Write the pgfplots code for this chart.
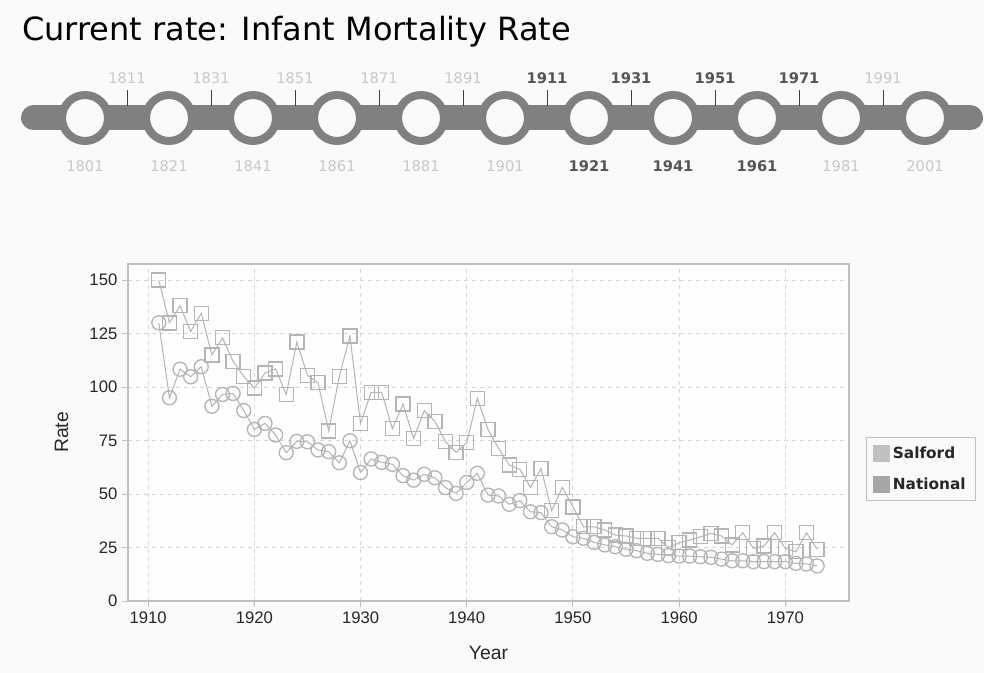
\documentclass[border=0pt]{standalone}
\usepackage{pgfplots}
\usepackage{pgfplotstable}
\pgfplotsset{compat=1.18}
\usepackage{fontspec}
\setmainfont{DejaVu Sans}
\newfontfamily\arial{Liberation Sans}
\definecolor{bg}{HTML}{FAFAFA}
\definecolor{tl}{HTML}{808080}
\definecolor{lightlab}{HTML}{C8C8C8}
\definecolor{darklab}{HTML}{555555}
\definecolor{ser}{HTML}{B4B4B4}
\definecolor{gridc}{HTML}{D6D6D6}
\definecolor{axc}{HTML}{C0C0C0}
\definecolor{salf}{HTML}{C0C0C0}
\definecolor{nat}{HTML}{A6A6A6}

\pgfplotstableread{
year rate
1911 150
1912 130
1913 138
1914 126
1915 134.5
1916 115
1917 123
1918 112
1919 105
1920 99.5
1921 106.5
1922 108.5
1923 96.5
1924 121
1925 105.5
1926 102
1927 79.5
1928 105
1929 123.8
1930 83
1931 97.5
1932 97.5
1933 80.5
1934 92
1935 76
1936 89
1937 84
1938 74.5
1939 69.5
1940 74
1941 94.7
1942 80.2
1943 71.3
1944 63.6
1945 61.5
1946 53.1
1947 62
1948 42.2
1949 53.1
1950 44
1951 34.7
1952 34.7
1953 33.2
1954 30.8
1955 30.4
1956 29.3
1957 29.3
1958 29.3
1959 25
1960 27.2
1961 28.5
1962 30
1963 31.6
1964 30.4
1965 26.2
1966 31.9
1967 24.6
1968 25.7
1969 31.9
1970 24.6
1971 23
1972 31.9
1973 24.1
}\salford

\pgfplotstableread{
year rate
1911 130
1912 95
1913 108.3
1914 104.8
1915 109.5
1916 91
1917 96.5
1918 97
1919 89
1920 80.2
1921 83
1922 77.6
1923 69.3
1924 74.6
1925 74.4
1926 70.6
1927 69.8
1928 64.6
1929 74.9
1930 60
1931 66.4
1932 64.8
1933 63.9
1934 58.6
1935 56.5
1936 59.2
1937 57.6
1938 53
1939 50.3
1940 55.4
1941 59.7
1942 49.5
1943 49.1
1944 45.2
1945 46.9
1946 41.7
1947 41.3
1948 34.7
1949 33.2
1950 30
1951 29.3
1952 27.4
1953 26.2
1954 25.4
1955 24.2
1956 23.5
1957 22.3
1958 21.8
1959 21.2
1960 21
1961 21
1962 20.7
1963 20.4
1964 19.6
1965 18.8
1966 18.8
1967 18.4
1968 18.4
1969 18.4
1970 18.4
1971 17.6
1972 17.3
1973 16.4
}\national

% timeline (pixel coordinates)
\pgfplotstableread{
x y
85 118
169 118
253 118
337 118
421 118
505 118
589 118
673 118
757 118
841 118
925 118
}\tlcircles

\pgfplotstableread{
x y
127 98
211 98
295 98
379 98
463 98
547 98
631 98
715 98
799 98
883 98
}\tlticks

\pgfplotstableread{
x y lab
127 78 1811
211 78 1831
295 78 1851
379 78 1871
463 78 1891
883 78 1991
85 166 1801
169 166 1821
253 166 1841
337 166 1861
421 166 1881
505 166 1901
841 166 1981
925 166 2001
}\tllight

\pgfplotstableread{
x y lab
547 78 1911
631 78 1931
715 78 1951
799 78 1971
589 166 1921
673 166 1941
757 166 1961
}\tldark

\begin{document}
\begin{tikzpicture}
\path[use as bounding box] (0pt,0pt) rectangle (738pt,-504.75pt);
\fill[bg] (0pt,0pt) rectangle (738pt,-504.75pt);

% ---------- timeline ----------
\begin{axis}[
  at={(0pt,0pt)}, anchor=north west,
  width=738pt, height=504.75pt, scale only axis,
  xmin=0, xmax=984, ymin=0, ymax=673, y dir=reverse,
  hide axis, clip=false]
\addplot[tl, line width=18.75pt, line cap=round, mark=none] coordinates {(33.5,118) (970.5,118)};
\addplot[only marks, mark=*, mark size=17.25pt,
  mark options={draw=tl, fill=bg, line width=6pt}] table {\tlcircles};
\addplot[only marks, mark=|, mark size=6pt,
  mark options={draw=black!75, line width=0.75pt}] table {\tlticks};
\addplot[draw=none, mark=none, nodes near coords, point meta=explicit symbolic,
  every node near coord/.style={anchor=center, inner sep=0pt,
    font=\fontsize{11}{13}\selectfont, text=lightlab}]
  table[meta=lab] {\tllight};
\addplot[draw=none, mark=none, nodes near coords, point meta=explicit symbolic,
  every node near coord/.style={anchor=center, inner sep=0pt,
    font=\fontsize{11}{13}\selectfont\bfseries, text=darklab}]
  table[meta=lab] {\tldark};
\node[anchor=base west, inner sep=0pt, font=\fontsize{24}{27}\selectfont]
  at (axis cs:22,41) {Current rate: Infant Mortality Rate};
\end{axis}

% ---------- main chart ----------
\begin{axis}[
  at={(96pt,-450.75pt)}, anchor=south west,
  width=540.75pt, height=252.75pt, scale only axis,
  xmin=1908.1, xmax=1976, ymin=0, ymax=157.5,
  xtick={1910,1920,...,1970}, ytick={0,25,...,150},
  xtick pos=left, ytick pos=left,
  tick align=outside, major tick length=4.5pt,
  tick style={axc, line width=0.75pt},
  grid=major,
  major grid style={gridc, line width=0.75pt, dash pattern=on 3pt off 3pt},
  axis line style={axc, line width=1pt},
  axis background/.style={fill=white!70!bg},
  tick label style={font=\arial\fontsize{12.5}{14}\selectfont, text=black!85},
  xlabel={Year}, ylabel={Rate},
  label style={font=\arial\fontsize{14.5}{16}\selectfont, text=black!85},
  xlabel style={at={(axis description cs:0.5,-0.154)}, anchor=center},
  ylabel style={at={(axis description cs:-0.092,0.5)}, anchor=center},
  legend style={at={(axis description cs:1.0236,0.4866)}, anchor=north west,
    draw=axc, line width=0.75pt, fill=bg,
    font=\fontsize{11.5}{13}\selectfont\bfseries, text=black!85,
    row sep=9pt, inner xsep=5pt, inner ysep=5pt},
  legend cell align=left,
  /pgf/number format/1000 sep={},
  /pgf/number format/assume math mode=true,
]
\addplot[ser, line width=0.75pt, mark=square, mark size=5.25pt,
  mark options={line width=1pt, fill=none, solid},
  legend image code/.code={\fill[salf] (0pt,-6pt) rectangle (12pt,6pt);}]
  table[x=year, y=rate] {\salford};
\addlegendentry{Salford}
\addplot[ser, line width=0.75pt, mark=o, mark size=5.25pt,
  mark options={line width=1pt, fill=none, solid},
  legend image code/.code={\fill[nat] (0pt,-6pt) rectangle (12pt,6pt);}]
  table[x=year, y=rate] {\national};
\addlegendentry{National}
\end{axis}
\end{tikzpicture}
\end{document}
